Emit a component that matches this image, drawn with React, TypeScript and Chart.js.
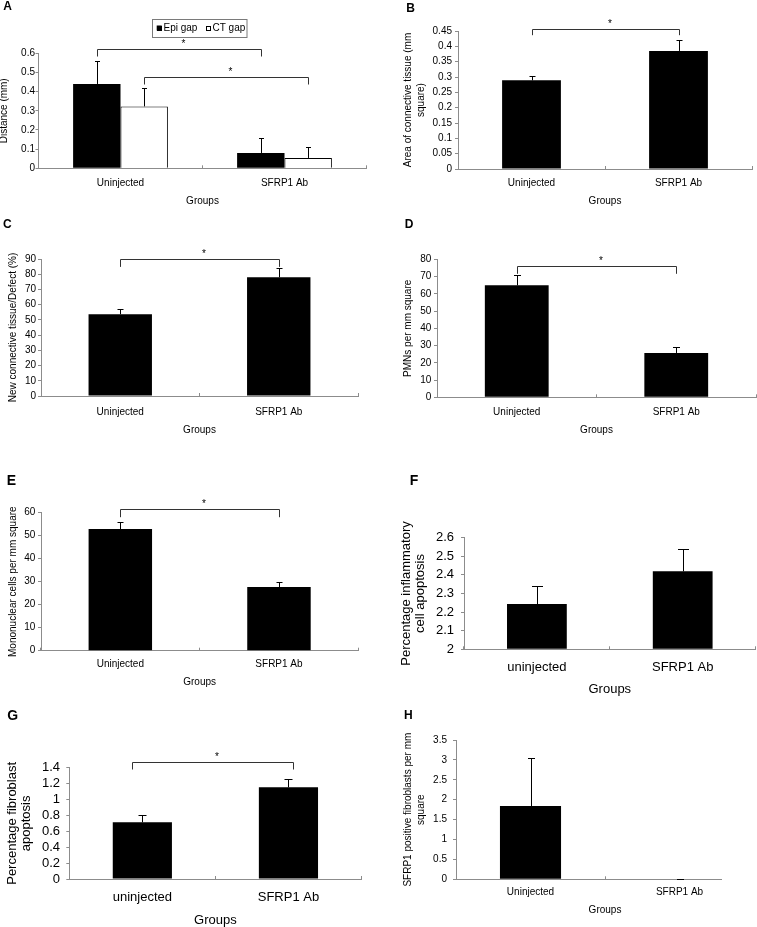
import React, { useEffect, useRef } from 'react';
import { Chart, registerables } from 'chart.js';

Chart.register(...registerables);

const FONT = "'Liberation Sans', Arial, Helvetica, sans-serif";
const AXIS = '#8c8c8c';
const INK = '#000000';

// ---- categories ----
const groupsCap = ['Uninjected', 'SFRP1 Ab'];
const groupsLow = ['uninjected', 'SFRP1 Ab'];

// ---- series values (mean) and error (+SD) ----
const epiGap = [0.44, 0.08];
const epiGapErr = [0.122, 0.08];
const ctGap = [0.323, 0.054];
const ctGapErr = [0.097, 0.057];
const ctArea = [0.289, 0.385];
const ctAreaErr = [0.013, 0.035];
const newCtPct = [53.7, 78.0];
const newCtPctErr = [3.7, 5.9];
const pmnDensity = [64.9, 25.7];
const pmnDensityErr = [5.8, 3.5];
const monoDensity = [52.9, 27.7];
const monoDensityErr = [2.9, 2.0];
const inflApoptosis = [2.243, 2.419];
const inflApoptosisErr = [0.096, 0.12];
const fibroApoptosis = [0.713, 1.153];
const fibroApoptosisErr = [0.088, 0.105];
const sfrp1Fibro = [1.84, 0];
const sfrp1FibroErr = [1.2, 0];

// ---- y tick labels ----
const ticksA = [0, 0.1, 0.2, 0.3, 0.4, 0.5, 0.6];
const ticksB = [0, 0.05, 0.1, 0.15, 0.2, 0.25, 0.3, 0.35, 0.4, 0.45];
const ticksC = [0, 10, 20, 30, 40, 50, 60, 70, 80, 90];
const ticksD = [0, 10, 20, 30, 40, 50, 60, 70, 80];
const ticksE = [0, 10, 20, 30, 40, 50, 60];
const ticksF = [2, 2.1, 2.2, 2.3, 2.4, 2.5, 2.6];
const ticksG = [0, 0.2, 0.4, 0.6, 0.8, 1, 1.2, 1.4];
const ticksH = [0, 0.5, 1, 1.5, 2, 2.5, 3, 3.5];

type Series = { label: string; values: number[]; errors: number[]; fill: string; border?: string };
type Bracket = { ds: number; from: number; to: number; y: number; drop: number; dx1?: number; dx2?: number };
type Panel = {
  key: string;
  letter: string; letterX: number; letterBase: number; letterSize: number;
  canvas: { x: number; y: number; w: number; h: number; clipW?: number };
  plot: { l: number; t: number; r: number; b: number };
  cats: string[]; series: Series[]; ticks: number[];
  yTitle: string[]; yTitleX: number; yTitleLH: number;
  font: number; tickRight: number; catY: number; groupsY: number; groupsFont: number;
  barPct: number; cap: number; brackets: Bracket[];
  legend?: { x: number; y: number; w: number; h: number };
};

const BLACK = (label: string, values: number[], errors: number[]): Series => ({ label, values, errors, fill: INK });

const panels: Panel[] = [
  {
    key: 'A', letter: 'A', letterX: 3.3, letterBase: 10.3, letterSize: 12,
    canvas: { x: 0, y: 0, w: 378, h: 212 },
    plot: { l: 38.5, t: 53.3, r: 366.5, b: 168.3 },
    cats: groupsCap,
    series: [
      { label: 'Epi gap', values: epiGap, errors: epiGapErr, fill: INK },
      { label: 'CT gap', values: ctGap, errors: ctGapErr, fill: '#ffffff', border: INK },
    ],
    ticks: ticksA, yTitle: ['Distance (mm)'], yTitleX: 4.5, yTitleLH: 1.2,
    font: 10, tickRight: 35, catY: 183, groupsY: 201, groupsFont: 10,
    barPct: 0.578, cap: 2.5,
    brackets: [
      { ds: 0, from: 0, to: 1, y: 0.6224, drop: 7 },
      { ds: 1, from: 0, to: 1, y: 0.476, drop: 7 },
    ],
    legend: { x: 151.5, y: 18.5, w: 94.5, h: 18 },
  },
  {
    key: 'B', letter: 'B', letterX: 406.3, letterBase: 11.9, letterSize: 12,
    canvas: { x: 378, y: 0, w: 379, h: 212 },
    plot: { l: 458, t: 31, r: 752, b: 169 },
    cats: groupsCap,
    series: [BLACK('Area', ctArea, ctAreaErr)],
    ticks: ticksB, yTitle: ['Area of connective tissue (mm', 'square)'], yTitleX: 408.7, yTitleLH: 1.23,
    font: 10, tickRight: 452, catY: 183.3, groupsY: 201.7, groupsFont: 10,
    barPct: 0.4, cap: 3,
    brackets: [{ ds: 0, from: 0, to: 1, y: 0.4565, drop: 5.7 }],
  },
  {
    key: 'C', letter: 'C', letterX: 3, letterBase: 228.3, letterSize: 12,
    canvas: { x: 0, y: 220, w: 378, h: 216 },
    plot: { l: 41, t: 259, r: 358, b: 396 },
    cats: groupsCap,
    series: [BLACK('New CT', newCtPct, newCtPctErr)],
    ticks: ticksC, yTitle: ['New connective tissue/Defect (%)'], yTitleX: 13.3, yTitleLH: 1.2,
    font: 10, tickRight: 36, catY: 412.3, groupsY: 430, groupsFont: 10,
    barPct: 0.4, cap: 3,
    brackets: [{ ds: 0, from: 0, to: 1, y: 89.8, drop: 7.4 }],
  },
  {
    key: 'D', letter: 'D', letterX: 404.7, letterBase: 228.3, letterSize: 12,
    canvas: { x: 378, y: 220, w: 379, h: 216 },
    plot: { l: 437, t: 259.3, r: 756, b: 397.3 },
    cats: groupsCap,
    series: [BLACK('PMNs', pmnDensity, pmnDensityErr)],
    ticks: ticksD, yTitle: ['PMNs per mm square'], yTitleX: 408, yTitleLH: 1.2,
    font: 10, tickRight: 431.3, catY: 412.3, groupsY: 430, groupsFont: 10,
    barPct: 0.4, cap: 3.5,
    brackets: [{ ds: 0, from: 0, to: 1, y: 76.1, drop: 7.3 }],
  },
  {
    key: 'E', letter: 'E', letterX: 6.7, letterBase: 485, letterSize: 14,
    canvas: { x: 0, y: 460, w: 378, h: 230 },
    plot: { l: 41, t: 512.7, r: 358.3, b: 650.7 },
    cats: groupsCap,
    series: [BLACK('Mononuclear', monoDensity, monoDensityErr)],
    ticks: ticksE, yTitle: ['Mononuclear cells per mm square'], yTitleX: 13.3, yTitleLH: 1.2,
    font: 10, tickRight: 35.3, catY: 664.7, groupsY: 682.7, groupsFont: 10,
    barPct: 0.4, cap: 3,
    brackets: [{ ds: 0, from: 0, to: 1, y: 61.6, drop: 7.7 }],
  },
  {
    key: 'F', letter: 'F', letterX: 409.7, letterBase: 485, letterSize: 14,
    canvas: { x: 378, y: 460, w: 379, h: 238 },
    plot: { l: 464, t: 537.7, r: 755.6, b: 649.3 },
    cats: groupsLow,
    series: [BLACK('Inflammatory apoptosis', inflApoptosis, inflApoptosisErr)],
    ticks: ticksF, yTitle: ['Percentage inflammatory', 'cell apoptosis'], yTitleX: 406.3, yTitleLH: 1.108,
    font: 13, tickRight: 454, catY: 667.7, groupsY: 689, groupsFont: 13,
    barPct: 0.41, cap: 5.5,
    brackets: [],
  },
  {
    key: 'G', letter: 'G', letterX: 7.3, letterBase: 720, letterSize: 14,
    canvas: { x: 0, y: 690, w: 378, h: 237 },
    plot: { l: 69.3, t: 767.7, r: 361.5, b: 879 },
    cats: groupsLow,
    series: [BLACK('Fibroblast apoptosis', fibroApoptosis, fibroApoptosisErr)],
    ticks: ticksG, yTitle: ['Percentage fibroblast', 'apoptosis'], yTitleX: 12.7, yTitleLH: 1.077,
    font: 13, tickRight: 60, catY: 897.3, groupsY: 920, groupsFont: 13,
    barPct: 0.405, cap: 4,
    brackets: [{ ds: 0, from: 0, to: 1, y: 1.475, drop: 7, dx1: -10.7, dx2: 4.5 }],
  },
  {
    key: 'H', letter: 'H', letterX: 404, letterBase: 719.3, letterSize: 12,
    canvas: { x: 378, y: 700, w: 379, h: 227, clipW: 344 },
    plot: { l: 456, t: 740, r: 754, b: 879.3 },
    cats: groupsCap,
    series: [BLACK('SFRP1 fibroblasts', sfrp1Fibro, sfrp1FibroErr)],
    ticks: ticksH, yTitle: ['SFRP1 positive fibroblasts per mm', 'square'], yTitleX: 408.7, yTitleLH: 1.26,
    font: 10, tickRight: 447, catY: 892.7, groupsY: 910.7, groupsFont: 10,
    barPct: 0.41, cap: 3.5,
    brackets: [],
  },
];

function PanelChart({ p }: { p: Panel }) {
  const ref = useRef<HTMLCanvasElement>(null);

  useEffect(() => {
    const cv = ref.current;
    if (!cv) return;
    const c = p.canvas;
    const lhTick = p.font * 1.2;
    const lhGroups = p.groupsFont * 1.2;
    const lhY = p.font * p.yTitleLH;
    const canvasBottom = c.y + c.h;
    const xTL = -3;
    const yTL = 3;

    const errorBars = {
      id: 'errorBars' + p.key,
      afterDatasetsDraw(chart: any) {
        const ctx = chart.ctx;
        const ys = chart.scales.y;
        ctx.save();
        ctx.strokeStyle = INK;
        ctx.lineWidth = 1;
        chart.data.datasets.forEach((ds: any, i: number) => {
          const meta = chart.getDatasetMeta(i);
          meta.data.forEach((bar: any, j: number) => {
            const v = ds.data[j];
            const e = ds.errors[j];
            const x = Math.round(bar.x) + 0.5;
            const y0 = ys.getPixelForValue(v);
            const y1 = Math.round(ys.getPixelForValue(v + e)) + 0.5;
            ctx.beginPath();
            ctx.moveTo(x, y0);
            ctx.lineTo(x, y1);
            ctx.moveTo(x - p.cap, y1);
            ctx.lineTo(x + p.cap, y1);
            ctx.stroke();
          });
        });
        ctx.restore();
      },
    };

    const brackets = {
      id: 'brackets' + p.key,
      afterDraw(chart: any) {
        const ctx = chart.ctx;
        const ys = chart.scales.y;
        ctx.save();
        ctx.strokeStyle = '#333333';
        ctx.fillStyle = INK;
        ctx.lineWidth = 1;
        p.brackets.forEach((b) => {
          const meta = chart.getDatasetMeta(b.ds);
          const x1 = Math.round(meta.data[b.from].x + (b.dx1 || 0)) + 0.5;
          const x2 = Math.round(meta.data[b.to].x + (b.dx2 || 0)) + 0.5;
          const y = Math.round(ys.getPixelForValue(b.y)) + 0.5;
          ctx.beginPath();
          ctx.moveTo(x1, y + b.drop);
          ctx.lineTo(x1, y);
          ctx.lineTo(x2, y);
          ctx.lineTo(x2, y + b.drop);
          ctx.stroke();
          ctx.font = `10px ${FONT}`;
          ctx.textAlign = 'center';
          ctx.textBaseline = 'alphabetic';
          ctx.fillText('*', (x1 + x2) / 2 + 4, y - 2.3);
        });
        ctx.restore();
      },
    };

    const boxLegend = {
      id: 'boxLegend' + p.key,
      afterDraw(chart: any) {
        const L = p.legend;
        if (!L) return;
        const ctx = chart.ctx;
        const ox = L.x - c.x;
        const oy = L.y - c.y;
        ctx.save();
        ctx.strokeStyle = '#7a7a7a';
        ctx.lineWidth = 1;
        ctx.strokeRect(Math.round(ox) + 0.5, Math.round(oy) + 0.5, L.w, L.h);
        ctx.font = `10px ${FONT}`;
        ctx.textBaseline = 'middle';
        ctx.textAlign = 'left';
        const cy = oy + L.h / 2 + 0.5;
        let x = ox + 5.2;
        chart.data.datasets.forEach((ds: any) => {
          const sq = 5;
          ctx.fillStyle = ds.backgroundColor;
          ctx.fillRect(x, cy - sq / 2, sq, sq);
          ctx.strokeStyle = INK;
          ctx.strokeRect(Math.round(x) + 0.5, Math.round(cy - sq / 2) + 0.5, sq - 1, sq - 1);
          ctx.fillStyle = INK;
          ctx.fillText(ds.label, x + 6.8, cy);
          x = x + 6.8 + ctx.measureText(ds.label).width + 8.3;
        });
        ctx.restore();
      },
    };

    const chart = new Chart(cv, {
      type: 'bar',
      data: {
        labels: p.cats,
        datasets: p.series.map((s) => ({
          label: s.label,
          data: s.values,
          errors: s.errors,
          backgroundColor: s.fill,
          borderColor: s.border ?? s.fill,
          borderWidth: s.border ? 1 : 0,
          borderSkipped: 'bottom',
          base: p.ticks[0],
          categoryPercentage: p.barPct,
          barPercentage: 1,
        })) as any,
      },
      options: {
        animation: false,
        responsive: false,
        maintainAspectRatio: false,
        devicePixelRatio: 1,
        events: [],
        layout: {
          padding: {
            top: p.plot.t - c.y,
            right: c.x + c.w - p.plot.r,
            left: 0,
            bottom: 0,
          },
        },
        plugins: {
          legend: { display: false },
          tooltip: { enabled: false },
          title: { display: false },
        },
        scales: {
          x: {
            type: 'category',
            offset: true,
            grid: {
              display: true,
              offset: true,
              drawOnChartArea: false,
              drawTicks: true,
              tickLength: xTL,
              color: AXIS,
            },
            border: { display: true, color: AXIS, width: 1 },
            ticks: {
              color: INK,
              font: { family: FONT, size: p.font, lineHeight: 1.2 },
              padding: p.catY - p.plot.b - xTL - lhTick / 2,
              maxRotation: 0,
              minRotation: 0,
              autoSkip: false,
            },
            title: {
              display: true,
              text: 'Groups',
              color: INK,
              font: { family: FONT, size: p.groupsFont, lineHeight: 1.2 },
              padding: { top: 0, bottom: canvasBottom - p.groupsY - lhGroups / 2 },
            },
            afterFit: (s: any) => {
              s.height = canvasBottom - p.plot.b;
            },
          },
          y: {
            type: 'linear',
            min: p.ticks[0],
            max: p.ticks[p.ticks.length - 1],
            afterBuildTicks: (s: any) => {
              s.ticks = p.ticks.map((v) => ({ value: v }));
            },
            grid: {
              display: true,
              drawOnChartArea: false,
              drawTicks: true,
              tickLength: yTL,
              color: AXIS,
            },
            border: { display: true, color: AXIS, width: 1 },
            ticks: {
              color: INK,
              font: { family: FONT, size: p.font, lineHeight: 1.2 },
              padding: p.plot.l - p.tickRight - yTL,
              autoSkip: false,
              callback: (v: any) => String(Number(Number(v).toFixed(6))),
            },
            title: {
              display: true,
              text: p.yTitle,
              color: INK,
              font: { family: FONT, size: p.font, lineHeight: p.yTitleLH },
              padding: { top: p.yTitleX - c.x - lhY / 2, bottom: 0 },
            },
            afterFit: (s: any) => {
              s.width = p.plot.l - c.x;
            },
          },
        },
      } as any,
      plugins: [errorBars, brackets, boxLegend],
    });
    return () => chart.destroy();
  }, [p]);

  const c = p.canvas;
  return (
    <div
      style={{
        position: 'absolute',
        left: c.x,
        top: c.y,
        width: c.clipW ?? c.w,
        height: c.h,
        overflow: 'hidden',
      }}
    >
      <canvas ref={ref} width={c.w} height={c.h} style={{ display: 'block', width: c.w, height: c.h }} />
    </div>
  );
}

export default function App() {
  return (
    <div
      style={{
        position: 'absolute',
        left: 0,
        top: 0,
        width: 757,
        height: 927,
        background: '#ffffff',
        overflow: 'hidden',
      }}
    >
      {panels.map((p) => (
        <PanelChart key={p.key} p={p} />
      ))}
      {panels.map((p) => (
        <div
          key={'L' + p.key}
          style={{
            position: 'absolute',
            left: p.letterX,
            top: p.letterBase - 0.8465 * p.letterSize,
            fontFamily: FONT,
            fontWeight: 'bold',
            fontSize: p.letterSize,
            lineHeight: 1,
            color: INK,
            whiteSpace: 'nowrap',
          }}
        >
          {p.letter}
        </div>
      ))}
    </div>
  );
}
